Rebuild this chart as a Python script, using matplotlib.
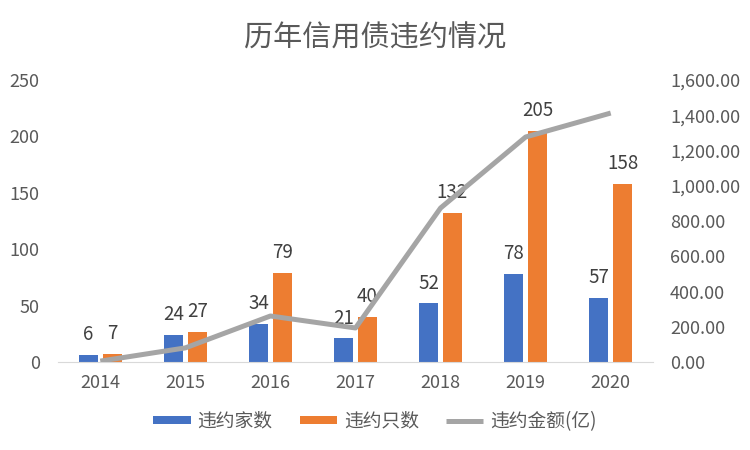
import matplotlib
matplotlib.use("Agg")
import matplotlib.pyplot as plt
import numpy as np

plt.rcParams['font.family'] = ['Noto Sans CJK SC', 'DejaVu Sans']

years = ['2014', '2015', '2016', '2017', '2018', '2019', '2020']
issuers = [6, 24, 34, 21, 52, 78, 57]
bonds = [7, 27, 79, 40, 132, 205, 158]
amount = [5, 80, 261, 193, 874, 1277, 1413]

blue = '#4472C4'
orange = '#ED7D31'
gray = '#A5A5A5'
txt = '#595959'

fig = plt.figure(figsize=(7.5, 4.5), dpi=100)
ax = fig.add_axes([0.077, 0.1956, 0.794, 0.6264])
x = np.arange(len(years))
w = 0.22
off = 0.14
b1 = ax.bar(x - off, issuers, w, color=blue, label='违约家数', zorder=2)
b2 = ax.bar(x + off, bonds, w, color=orange, label='违约只数', zorder=2)
ax.set_ylim(0, 250)
ax.set_xlim(-0.5, len(years) - 0.5)
ax.set_xticks(x)
ax.set_xticklabels(years)
ax.set_yticks([0, 50, 100, 150, 200, 250])
for s in ['top', 'left', 'right']:
    ax.spines[s].set_visible(False)
ax.spines['bottom'].set_color('#D9D9D9')
ax.tick_params(axis='both', length=0, colors=txt, labelsize=13)
ax.tick_params(axis='x', pad=9)
ax.tick_params(axis='y', pad=13)

for bars, vals in ((b1, issuers), (b2, bonds)):
    for r, v in zip(bars, vals):
        ax.annotate(str(v), (r.get_x() + r.get_width() / 2, v),
                    xytext=(0, 7), textcoords='offset points',
                    ha='center', va='bottom', fontsize=13.5, color='#404040', zorder=5)

ax2 = ax.twinx()
ln, = ax2.plot(x, amount, color=gray, lw=3.6, label='违约金额(亿)', zorder=3, solid_capstyle='butt')
ax2.set_ylim(0, 1600)
ax2.set_yticks(np.arange(0, 1601, 200))
ax2.set_yticklabels([f'{v:,.2f}' for v in np.arange(0, 1601, 200)])
for s in ['top', 'left', 'right', 'bottom']:
    ax2.spines[s].set_visible(False)
ax2.tick_params(axis='y', length=0, colors=txt, labelsize=13, pad=12)

fig.text(0.5, 0.915, '历年信用债违约情况', ha='center', va='center', fontsize=21, color=txt)

handles = [b1, b2, ln]
fig.legend(handles, [h.get_label() for h in handles], loc='center', bbox_to_anchor=(0.5, 0.064),
           ncol=3, frameon=False, fontsize=13.5, labelcolor=txt, handlelength=2.0,
           handleheight=0.35, columnspacing=1.45, handletextpad=0.35)

fig.savefig('out.png', dpi=100)
